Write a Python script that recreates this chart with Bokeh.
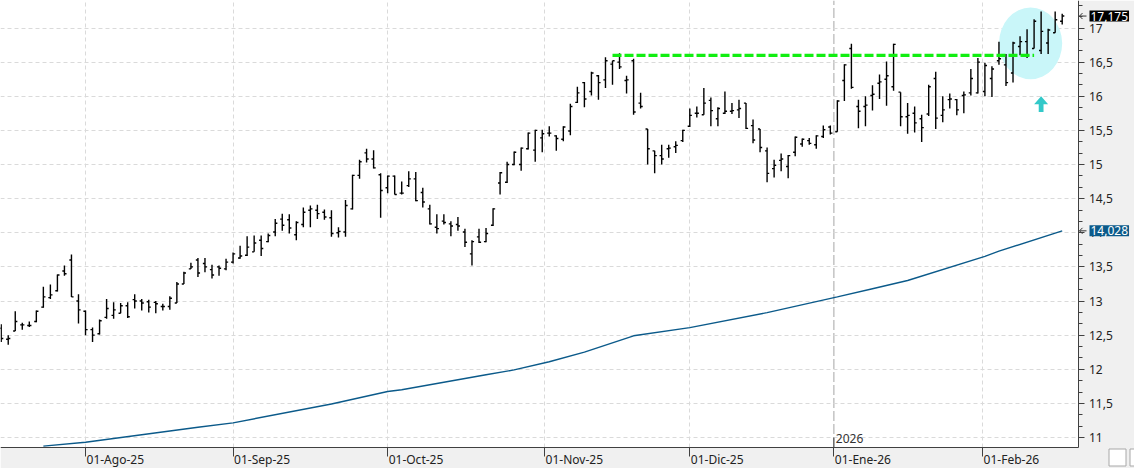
import pandas as pd
from bokeh.plotting import figure
from bokeh.models import (Range1d, FixedTicker, CustomJSTickFormatter, Label, Grid,
                          LinearAxis, ColumnDataSource)
from bokeh.core.properties import value
from bokeh.embed import file_html
from bokeh.resources import INLINE

# ---------------- data ----------------
first_day = "2025-07-16"
last_day = "2026-02-17"
market_holidays = ["2025-12-25", "2025-12-26", "2026-01-01"]

opens = [12.60, 12.44, 12.56, 12.65, 12.64, 12.70, 12.91, 13.05, 13.15, 13.44,
         13.60, 13.00, 12.85, 12.58, 12.52, 12.76, 12.79, 12.82, 12.93, 13.02,
         13.00, 12.99, 12.98, 12.92, 12.92, 12.97, 13.25, 13.47, 13.60, 13.55,
         13.46, 13.50, 13.47, 13.57, 13.63, 13.67, 13.72, 13.89, 13.87, 14.01,
         14.20, 14.19, 13.97, 14.12, 14.33, 14.33, 14.30, 14.22, 14.00, 14.01,
         14.35, 14.84, 15.17, 15.08, 14.85, 14.66, 14.83, 14.58, 14.69, 14.79,
         14.59, 14.35, 14.08, 14.17, 14.13, 14.12, 14.01, 13.69, 13.94, 13.87,
         14.11, 14.73, 14.74, 15.00, 15.00, 15.23, 15.21, 15.39, 15.46, 15.42,
         15.37, 15.49, 15.91, 16.20, 16.07, 16.30, 16.24, 16.47, 16.50, 16.23,
         16.52, 15.90, 15.52, 15.20, 15.13, 15.23, 15.26, 15.35, 15.56, 15.75,
         15.73, 15.94, 15.67, 15.75, 15.78, 15.80, 15.90, 15.57, 15.52, 15.20,
         14.94, 15.06, 14.97, 15.18, 15.30, 15.35, 15.29, 15.41, 15.55, 15.48,
         16.23, 16.70, 15.85, 15.85, 16.01, 16.19, 16.25, 16.14, 16.06, 15.70,
         15.75, 15.67, 15.74, 16.26, 15.72, 15.95, 15.95, 16.01, 16.05, 16.05,
         16.07, 16.26, 16.52, 16.46, 16.34, 16.73, 16.80, 16.70, 16.67, 16.78,
         16.93, 17.10]
highs = [12.66, 12.50, 12.85, 12.68, 12.70, 12.86, 13.21, 13.24, 13.39, 13.52,
         13.68, 13.10, 12.86, 12.61, 12.73, 13.03, 12.98, 12.97, 12.98, 13.10,
         13.03, 13.02, 13.00, 12.96, 13.07, 13.28, 13.43, 13.56, 13.63, 13.63,
         13.53, 13.52, 13.62, 13.71, 13.81, 13.95, 13.96, 13.96, 13.99, 14.20,
         14.28, 14.27, 14.17, 14.37, 14.40, 14.41, 14.34, 14.33, 14.08, 14.48,
         14.85, 15.07, 15.23, 15.21, 14.87, 14.84, 14.84, 14.75, 14.90, 14.89,
         14.66, 14.41, 14.27, 14.27, 14.17, 14.23, 14.06, 13.89, 14.06, 14.07,
         14.36, 14.89, 15.04, 15.19, 15.25, 15.47, 15.51, 15.51, 15.56, 15.43,
         15.56, 15.89, 16.14, 16.21, 16.36, 16.31, 16.57, 16.52, 16.63, 16.30,
         16.55, 16.05, 15.52, 15.20, 15.29, 15.29, 15.34, 15.51, 15.82, 15.85,
         16.12, 15.98, 15.84, 16.07, 15.90, 15.95, 15.90, 15.66, 15.52, 15.25,
         15.07, 15.16, 15.14, 15.41, 15.38, 15.39, 15.43, 15.57, 15.57, 15.94,
         16.47, 16.77, 15.95, 16.00, 16.16, 16.32, 16.51, 16.77, 16.06, 15.90,
         15.85, 15.73, 16.17, 16.36, 16.00, 16.04, 15.96, 16.07, 16.40, 16.56,
         16.49, 16.44, 16.80, 16.62, 16.80, 16.88, 16.98, 17.13, 17.24, 16.99,
         17.24, 17.21]
lows = [12.40, 12.36, 12.56, 12.58, 12.62, 12.69, 12.90, 13.03, 13.14, 13.37,
        13.06, 12.67, 12.50, 12.40, 12.51, 12.74, 12.74, 12.82, 12.75, 12.89,
        12.86, 12.83, 12.82, 12.86, 12.87, 12.97, 13.25, 13.47, 13.35, 13.42,
        13.33, 13.37, 13.45, 13.55, 13.62, 13.66, 13.72, 13.66, 13.86, 13.95,
        14.03, 13.99, 13.89, 14.08, 14.08, 14.20, 14.19, 13.94, 13.93, 13.94,
        14.34, 14.79, 15.03, 14.94, 14.22, 14.58, 14.56, 14.56, 14.67, 14.46,
        14.37, 14.12, 13.99, 14.12, 13.95, 14.03, 13.79, 13.52, 13.85, 13.86,
        14.10, 14.56, 14.73, 14.99, 14.91, 15.22, 15.04, 15.18, 15.41, 15.20,
        15.34, 15.43, 15.90, 15.84, 16.01, 15.95, 16.12, 16.17, 16.40, 16.04,
        15.73, 15.82, 15.00, 14.87, 15.00, 15.10, 15.17, 15.33, 15.55, 15.69,
        15.73, 15.56, 15.56, 15.74, 15.74, 15.68, 15.52, 15.31, 15.18, 14.74,
        14.81, 14.90, 14.80, 15.12, 15.26, 15.29, 15.23, 15.39, 15.44, 15.48,
        15.93, 16.11, 15.53, 15.56, 15.79, 15.96, 15.86, 16.08, 15.56, 15.45,
        15.47, 15.33, 15.71, 15.52, 15.62, 15.82, 15.72, 15.75, 16.01, 16.04,
        16.00, 15.99, 16.46, 16.15, 16.20, 16.60, 16.56, 16.70, 16.62, 16.62,
        16.93, 17.05]
closes = [12.45, 12.45, 12.70, 12.65, 12.64, 12.85, 13.06, 13.09, 13.38, 13.40,
          13.06, 12.87, 12.58, 12.50, 12.71, 12.89, 12.87, 12.93, 12.77, 13.00,
          12.97, 12.91, 12.96, 12.92, 13.04, 13.25, 13.41, 13.50, 13.41, 13.50,
          13.38, 13.48, 13.57, 13.69, 13.66, 13.79, 13.85, 13.77, 13.96, 14.14,
          14.11, 14.07, 14.15, 14.30, 14.35, 14.28, 14.23, 13.99, 14.02, 14.40,
          14.84, 15.04, 15.08, 14.95, 14.62, 14.83, 14.56, 14.58, 14.79, 14.47,
          14.45, 14.13, 14.06, 14.15, 14.10, 14.10, 13.86, 13.87, 13.86, 13.99,
          14.35, 14.88, 15.00, 15.18, 15.24, 15.46, 15.50, 15.45, 15.46, 15.38,
          15.55, 15.85, 16.05, 15.96, 16.34, 16.20, 16.52, 16.52, 16.43, 16.24,
          15.77, 15.85, 15.23, 15.13, 15.08, 15.24, 15.28, 15.50, 15.72, 15.75,
          15.90, 15.79, 15.82, 15.78, 15.79, 15.82, 15.53, 15.36, 15.25, 14.87,
          14.99, 15.08, 15.13, 15.40, 15.37, 15.31, 15.42, 15.51, 15.46, 15.93,
          16.46, 16.13, 15.78, 15.87, 16.03, 16.21, 16.30, 16.76, 15.70, 15.72,
          15.61, 15.54, 16.14, 15.68, 15.80, 15.96, 15.80, 16.02, 16.26, 16.50,
          16.45, 16.40, 16.55, 16.20, 16.78, 16.80, 16.60, 17.10, 16.95, 16.97,
          17.12, 17.175]

# moving average, read at sample dates
ma_dates = ["2025-07-24", "2025-08-01", "2025-08-25", "2025-09-01",
            "2025-09-19", "2025-10-01", "2025-10-03", "2025-10-21", "2025-10-27",
            "2025-11-03", "2025-11-10", "2025-11-19", "2025-12-01", "2025-12-16",
            "2026-01-02", "2026-01-09", "2026-01-16", "2026-02-02", "2026-02-04",
            "2026-02-17"]
ma_values = [10.873, 10.931, 11.15, 11.215,
             11.49, 11.674, 11.70, 11.92, 11.99,
             12.11, 12.25, 12.49, 12.61, 12.83,
             13.06, 13.18, 13.30, 13.655, 13.73,
             14.028]

month_dates = ["2025-08-01", "2025-09-01", "2025-10-01", "2025-11-01",
               "2025-12-01", "2026-01-01", "2026-02-01"]
month_labels = ["01-Ago-25", "01-Sep-25", "01-Oct-25", "01-Nov-25",
                "01-Dic-25", "01-Ene-26", "01-Feb-26"]
year_date = "2026-01-01"
year_label = "2026"

y_ticks = [11, 11.5, 12, 12.5, 13, 13.5, 14, 14.5, 15, 15.5, 16, 16.5, 17]

resistance_level = 16.6
resistance_from = "2025-11-14"
resistance_to = "2026-02-11"

highlight_from = "2026-02-04"
highlight_to = "2026-02-17"
highlight_low = 16.25
highlight_high = 17.30

arrow_date = "2026-02-12"
arrow_tip = 16.0
arrow_base = 15.77

# ---------------- positions ----------------
dates = pd.bdate_range(first_day, last_day, freq="C", holidays=market_holidays)
n = len(dates)
idx = list(range(n))


def date_pos(d):
    d = pd.Timestamp(d)
    k = int(dates.searchsorted(d))
    if k < n and dates[k] == d:
        return float(k)
    prev, nxt = dates[k - 1], dates[k]
    return (k - 1) + (d - prev) / (nxt - prev)


W, H = 1134, 468
kx = 1061.0 / 151.0          # pixels per trading day
ky = 68.25                   # pixels per price unit
X0 = -0.7 / kx
X_END = X0 + W / kx
Y_TOP = 17 + 27.5 / ky
Y_BOT = Y_TOP - H / ky


def x_at(px):
    return X0 + px / kx


def y_at(py):
    return Y_TOP - py / ky


def fmt(v):
    return f"{v:.3f}".replace(".", ",")


FONT = "Noto Sans"
AXIS_COL = "#404040"
PANEL = "#f0f0f0"
GRID = "#dadada"

AX_X = x_at(1077.5)   # price axis location
AX_Y = y_at(446.5)    # time axis location

p = figure(width=W, height=H, output_backend="svg", toolbar_location=None,
           x_range=Range1d(X0, X_END), y_range=Range1d(Y_BOT, Y_TOP),
           x_axis_location=None, y_axis_location=None, min_border=0)
p.outline_line_color = None
p.border_fill_color = PANEL
p.background_fill_color = "white"
for g in p.xgrid + p.ygrid:
    g.visible = False

month_pos = [date_pos(d) for d in month_dates]
year_pos = date_pos(year_date)

# grids
p.add_layout(Grid(dimension=0,
                  ticker=FixedTicker(ticks=[m for m in month_pos if abs(m - year_pos) > 1e-6]),
                  bounds=(AX_Y, Y_TOP), grid_line_color=GRID, grid_line_dash="4 3"))
p.add_layout(Grid(dimension=1, ticker=FixedTicker(ticks=y_ticks),
                  bounds=(X0, AX_X), grid_line_color=GRID, grid_line_dash="4 3"))

# year separator
p.segment(x0=[year_pos], y0=[AX_Y], x1=[year_pos], y1=[Y_TOP],
          line_color="#c4c4c4", line_dash="10 3", line_width=1.5, level="underlay")

# highlight ellipse
hx0, hx1 = date_pos(highlight_from), date_pos(highlight_to)
p.ellipse(x=[(hx0 + hx1) / 2], y=[(highlight_low + highlight_high) / 2],
          width=[hx1 - hx0], height=[highlight_high - highlight_low],
          fill_color="#c9f6f9", line_color=None)

# moving average
ma_x = [date_pos(d) for d in ma_dates]
p.line(ma_x, ma_values, line_color="#0b5a8a", line_width=1.4)

# OHLC bars
tick_len = 0.3
src = ColumnDataSource(dict(
    x=idx, o=opens, h=highs, l=lows, c=closes,
    xl=[i - tick_len for i in idx], xr=[i + tick_len for i in idx]))
p.segment(x0="x", y0="l", x1="x", y1="h", source=src, line_color="black", line_width=1.4)
p.segment(x0="xl", y0="o", x1="x", y1="o", source=src, line_color="black", line_width=1.4)
p.segment(x0="x", y0="c", x1="xr", y1="c", source=src, line_color="black", line_width=1.4)

# resistance line
p.line([date_pos(resistance_from), date_pos(resistance_to)],
       [resistance_level, resistance_level],
       line_color="#11ee11", line_width=3.3, line_dash="9 3")

# up arrow
ax = date_pos(arrow_date)
hw = 7 / kx
sw = 2.4 / kx
neck = arrow_tip - 8 / ky
p.patch([ax, ax + hw, ax + sw, ax + sw, ax - sw, ax - sw, ax - hw],
        [arrow_tip, neck, neck, arrow_base, arrow_base, neck, neck],
        fill_color="#33c9c9", line_color=None)

# axis panels (grey)
p.quad(left=[AX_X, X0], right=[X_END, X_END], bottom=[Y_BOT, Y_BOT],
       top=[Y_TOP, AX_Y], fill_color=PANEL, line_color=None)

# price axis on the right
minor = []
for a in y_ticks:
    minor += [a + 0.5 / 3, a + 1.0 / 3]
yax = LinearAxis(fixed_location=AX_X, bounds=(AX_Y, Y_TOP),
                 ticker=FixedTicker(ticks=y_ticks, minor_ticks=minor),
                 formatter=CustomJSTickFormatter(code="return tick.toString().replace('.', ',')"))
yax.axis_line_color = AXIS_COL
yax.major_tick_line_color = AXIS_COL
yax.minor_tick_line_color = AXIS_COL
yax.major_tick_out = 6
yax.major_tick_in = 0
yax.minor_tick_out = 4
yax.minor_tick_in = 0
yax.major_label_standoff = 5
yax.major_label_text_font = FONT
yax.major_label_text_font_size = "12px"
yax.major_label_text_color = "#222222"
p.add_layout(yax, "right")

# time axis at the bottom (labels drawn left-aligned next to each tick)
xax = LinearAxis(fixed_location=AX_Y, bounds=(X0, AX_X),
                 ticker=FixedTicker(ticks=month_pos, minor_ticks=[]),
                 formatter=CustomJSTickFormatter(code="return ''"))
xax.axis_line_color = AXIS_COL
xax.major_tick_line_color = AXIS_COL
xax.major_tick_out = 9
xax.major_tick_in = 0
p.add_layout(xax, "below")

p.text(x=month_pos, y=[y_at(458.5)] * len(month_pos), text=month_labels,
       x_offset=1, text_align="left", text_baseline="middle",
       text_font=value(FONT), text_font_size="12px", text_color="#222222")

# year marker
p.segment(x0=[year_pos], y0=[AX_Y], x1=[year_pos], y1=[y_at(437)],
          line_color=AXIS_COL, line_width=1)
p.text(x=[year_pos], y=[y_at(437.5)], text=[year_label], x_offset=2,
       text_align="left", text_baseline="middle",
       text_font=value(FONT), text_font_size="12px", text_color="#333333")

# small chart-type buttons in the corner
p.quad(left=[x_at(1108.5), x_at(1129.5)], right=[x_at(1125.5), x_at(1146)],
       bottom=[y_at(465.5), y_at(465.5)], top=[y_at(448.5), y_at(448.5)],
       fill_color="white", line_color="#a8a8a8", line_width=1)

# right-side value tags with small pointer arrows
tag_vals = [closes[-1], ma_values[-1]]
tag_cols = ["black", "#0b5a8a"]
ax0, ax1, axh = x_at(1079), x_at(1086), x_at(1082)
dy = 3 / ky
p.segment(x0=[ax0] * 2, y0=tag_vals, x1=[ax1] * 2, y1=tag_vals,
          line_color="#333333", line_width=1)
p.segment(x0=[ax0] * 2, y0=tag_vals, x1=[axh] * 2, y1=[v + dy for v in tag_vals],
          line_color="#333333", line_width=1)
p.segment(x0=[ax0] * 2, y0=tag_vals, x1=[axh] * 2, y1=[v - dy for v in tag_vals],
          line_color="#333333", line_width=1)
for val, bg in zip(tag_vals, tag_cols):
    p.add_layout(Label(x=x_at(1089), y=val, text=fmt(val), text_align="left",
                       text_baseline="middle", text_font=FONT, text_font_size="12px",
                       text_color="white", background_fill_color=bg, padding=1))

open("out.html", "w").write(file_html(p, INLINE))
